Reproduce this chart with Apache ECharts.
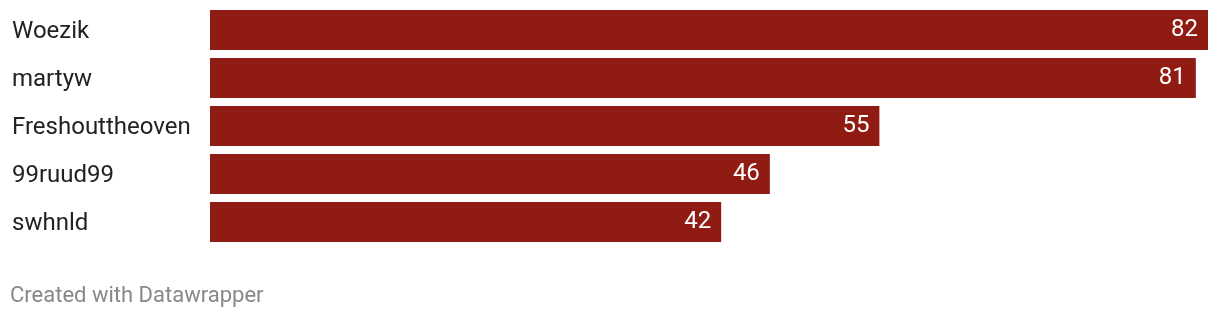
<!DOCTYPE html>
<html><head><meta charset="utf-8">
<script src="https://cdn.jsdelivr.net/npm/echarts@6/dist/echarts.min.js"></script>
<style>html,body{margin:0;padding:0;background:#fff}#c{width:1220px;height:318px}</style>
</head><body><div id="c"></div>
<script>
const categories = ["Woezik", "martyw", "Freshouttheoven", "99ruud99", "swhnld"];
const values = [82, 81, 55, 46, 42];
const footer = "Created with Datawrapper";

const chart = echarts.init(document.getElementById('c'), null, {renderer: 'canvas'});
chart.setOption({
  animation: false,
  grid: {left: 210, right: 12, top: 6, height: 240, containLabel: false},
  xAxis: {type: 'value', min: 0, max: 82, show: false},
  yAxis: {
    type: 'category', data: categories, inverse: true,
    axisLine: {show: false}, axisTick: {show: false},
    axisLabel: {
      align: 'left', margin: 198, formatter: '{a|{value}}',
      rich: {a: {fontFamily: 'Roboto', fontSize: 24, color: '#222', padding: [4, 0, 0, 0]}}
    }
  },
  series: [{
    type: 'bar', data: values, barWidth: 40,
    itemStyle: {color: '#901b13'},
    label: {show: true, position: 'insideRight', distance: 10, color: '#fff', fontFamily: 'Roboto', fontSize: 24}
  }],
  graphic: [{type: 'text', left: 10, top: 285, style: {text: footer, fontFamily: 'Roboto', fontSize: 22, fill: '#888'}}]
});
</script></body></html>
